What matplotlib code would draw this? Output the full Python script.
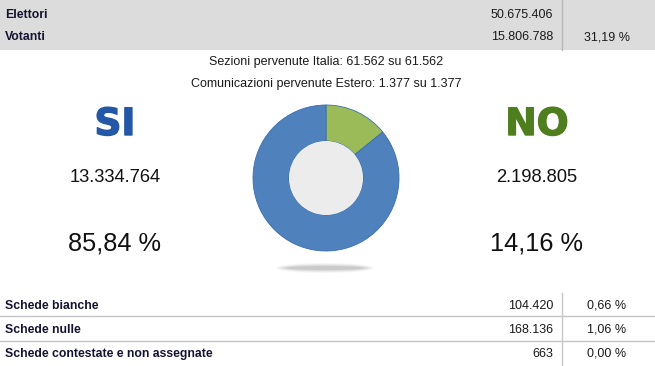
import matplotlib
matplotlib.use("Agg")
import matplotlib.pyplot as plt
from matplotlib.patches import Rectangle, Circle, Ellipse
import matplotlib.patheffects as pe

plt.rcParams['font.family'] = ['Liberation Sans', 'DejaVu Sans']

# ---- data ----
top_labels = ["Elettori", "Votanti"]
top_values = ["50.675.406", "15.806.788"]
top_pcts = ["", "31,19 %"]

info_lines = ["Sezioni pervenute Italia: 61.562 su 61.562",
              "Comunicazioni pervenute Estero: 1.377 su 1.377"]

answers = ["SI", "NO"]
answer_votes = [13334764, 2198805]
answer_votes_txt = ["13.334.764", "2.198.805"]
answer_pcts = ["85,84 %", "14,16 %"]
answer_shares = [85.84, 14.16]

bottom_labels = ["Schede bianche", "Schede nulle", "Schede contestate e non assegnate"]
bottom_values = ["104.420", "168.136", "663"]
bottom_pcts = ["0,66 %", "1,06 %", "0,00 %"]

# ---- styles ----
W, H = 655, 366
blue = "#4f81bd"
green = "#9bbb59"
si_color = "#2458a6"
no_color = "#4f7e1f"
label_color = "#141432"

fig = plt.figure(figsize=(W / 100, H / 100), dpi=100)
fig.patch.set_facecolor("white")
ax = fig.add_axes([0, 0, 1, 1])
ax.set_xlim(0, W)
ax.set_ylim(H, 0)
ax.axis("off")

# top band
ax.add_patch(Rectangle((0, 0), W, 50, facecolor="#dcdcdc", edgecolor="none"))
ax.plot([562, 562], [0, 50], color="#b8b8b8", lw=1)
top_base = [18, 40]
for lab, val, pct, yb in zip(top_labels, top_values, top_pcts, top_base):
    ax.text(5, yb, lab, fontsize=8.8, fontweight="bold", color=label_color, va="baseline", ha="left")
    ax.text(553, yb, val, fontsize=9, color="#1a1a1a", va="baseline", ha="right")
    if pct:
        ax.text(607, yb, pct, fontsize=9, color="#1a1a1a", va="baseline", ha="center")

# info lines
for txt, yb in zip(info_lines, [65, 87]):
    ax.text(326, yb, txt, fontsize=9, color="#1a1a1a", va="baseline", ha="center")

# answers
xs = [115, 537]
cols = [si_color, no_color]
for a, vt, pc, x, c in zip(answers, answer_votes_txt, answer_pcts, xs, cols):
    ax.text(x, 135, a, fontsize=27, fontweight="heavy", family="DejaVu Sans", color=c,
            va="baseline", ha="center",
            path_effects=[pe.withStroke(linewidth=1.0, foreground=c)])
    ax.text(x, 182, vt, fontsize=13.2, color="#111111", va="baseline", ha="center")
    ax.text(x, 251, pc, fontsize=18.3, color="#111111", va="baseline", ha="center")

# shadow under donut
for w, h, a in [(98, 10, 0.07), (92, 8, 0.11), (86, 6, 0.15), (78, 4, 0.2)]:
    ax.add_patch(Ellipse((325, 268), w, h, facecolor="#8a8a8a", edgecolor="none", alpha=a))

# bottom table
ax.plot([0, W], [316, 316], color="#c4c4c4", lw=1)
ax.plot([0, W], [341, 341], color="#c4c4c4", lw=1)
ax.plot([562, 562], [293, H], color="#c8c8c8", lw=1)
for lab, val, pct, yb in zip(bottom_labels, bottom_values, bottom_pcts, [309, 333, 357]):
    ax.text(5, yb, lab, fontsize=8.8, fontweight="bold", color=label_color, va="baseline", ha="left")
    ax.text(553, yb, val, fontsize=9, color="#1a1a1a", va="baseline", ha="right")
    ax.text(607, yb, pct, fontsize=9, color="#1a1a1a", va="baseline", ha="center")

# donut
cx, cy, R = 326, 178, 73
pad = 77
pax = fig.add_axes([(cx - pad) / W, (H - cy - pad) / H, 2 * pad / W, 2 * pad / H])
pax.pie([answer_shares[1], answer_shares[0]], colors=[green, blue], startangle=90,
        counterclock=False, radius=R / pad,
        wedgeprops=dict(width=(R - 37) / pad, edgecolor="#3a6db0", linewidth=0.6))
pax.add_patch(Circle((0, 0), 37 / pad, facecolor="#ececec", edgecolor="none", zorder=5))
pax.set_xlim(-1, 1)
pax.set_ylim(-1, 1)
pax.set_aspect("equal")
pax.axis("off")

fig.savefig("out.png", dpi=100)
